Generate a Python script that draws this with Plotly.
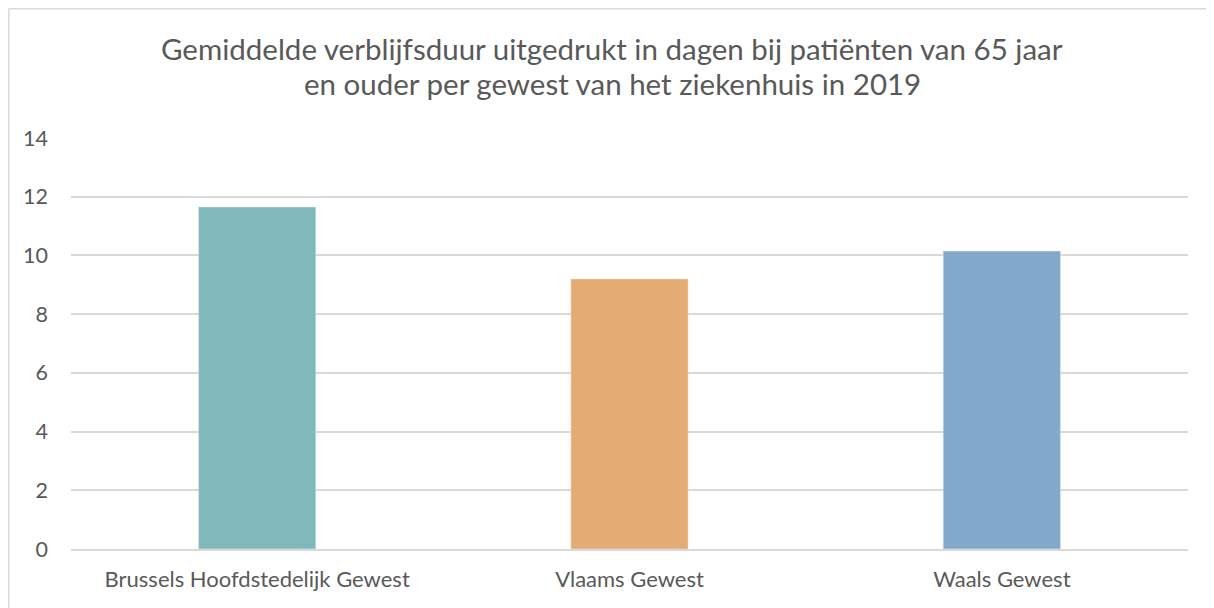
import plotly.graph_objects as go

categories = ["Brussels Hoofdstedelijk Gewest", "Vlaams Gewest", "Waals Gewest"]
values = [11.65, 9.2, 10.15]
colors = ["#7FB9BA", "#E4AB73", "#82A8CC"]
y_ticks = [0, 2, 4, 6, 8, 10, 12, 14]

title_lines = ["Gemiddelde verblijfsduur uitgedrukt in dagen bij patiënten van 65 jaar",
               "en ouder per gewest van het ziekenhuis in 2019"]

# page body has an 8px margin, so the figure is 8px smaller than the window
W, H = 1206, 600
L, R, T, B = 63, 26, 130, 59
pw, ph = W - L - R, H - T - B

fig = go.Figure(go.Bar(x=categories, y=values, marker_color=colors, width=0.315))

fig.update_layout(
    width=W, height=H,
    margin=dict(l=L, r=R, t=T, b=B),
    paper_bgcolor="white", plot_bgcolor="white",
    font=dict(family="Lato", color="#595959", size=22),
    showlegend=False,
    xaxis=dict(showgrid=False, showline=True, linecolor="#D9D9D9", linewidth=1.5,
               ticks="", ticklabelstandoff=10, tickfont=dict(size=22, color="#595959")),
    yaxis=dict(range=[0, 14], tickvals=y_ticks, showgrid=True, gridcolor="#D9D9D9",
               gridwidth=1.5, zeroline=False, showline=False, ticks="",
               ticklabelstandoff=22, tickfont=dict(size=21.5, color="#595959")),
)

# title: two centred lines placed by pixel position in the figure
cx = (604 - L) / pw
for line, fy in zip(title_lines, [40, 76]):
    fig.add_annotation(text=line, xref="paper", yref="paper", x=cx, y=(H - B - fy) / ph,
                       xanchor="center", yanchor="middle", showarrow=False,
                       font=dict(size=29.5, color="#595959", family="Lato"))

# outer chart border (left and top visible)
x0 = (0.75 - L) / pw
y1 = (H - 0.75 - B) / ph
fig.add_shape(type="line", xref="paper", yref="paper", x0=x0, x1=x0, y0=-B / ph - 0.05, y1=y1,
              line=dict(color="#D9D9D9", width=1.5))
fig.add_shape(type="line", xref="paper", yref="paper", x0=x0, x1=(W + 5 - L) / pw, y0=y1, y1=y1,
              line=dict(color="#D9D9D9", width=1.5))

fig.write_html("out.html")
